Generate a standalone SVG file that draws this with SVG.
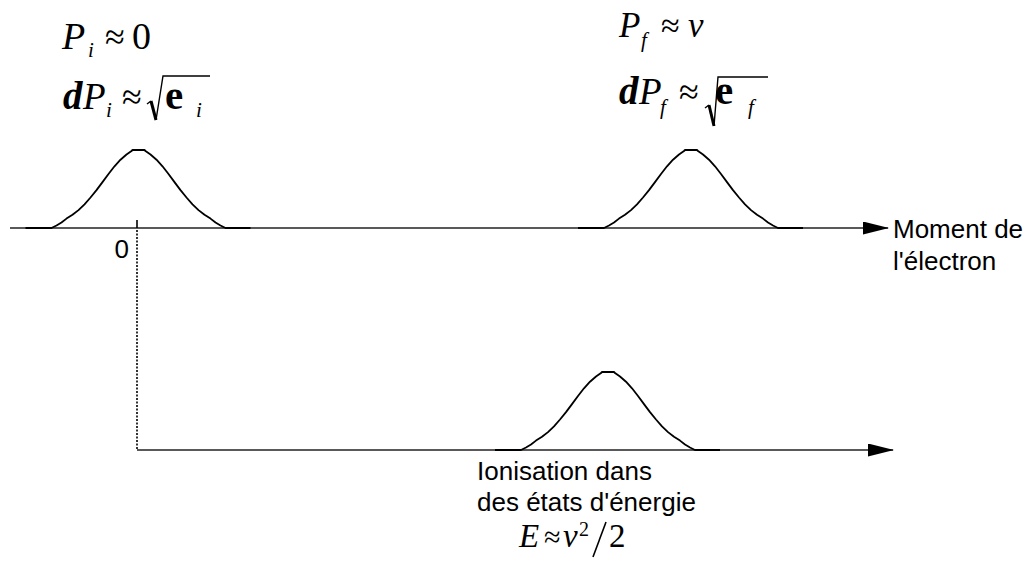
<svg xmlns="http://www.w3.org/2000/svg" width="1034" height="573" viewBox="0 0 1034 573">
<style>
.lbl{font-family:"Liberation Sans",Arial,sans-serif;font-size:26px;fill:#000}
.m{font-family:"Liberation Serif","Times New Roman",serif;fill:#000}
.it{font-style:italic}
.bd{font-weight:bold}
.ax{stroke:#222;stroke-width:1.6;fill:none}
.g{stroke:#000;stroke-width:1.8;fill:none;stroke-linejoin:round}
.rad{stroke:#000;stroke-width:1.4;fill:none}
</style>
<defs>
<marker id="arr" markerWidth="26" markerHeight="13" refX="25" refY="6.5" orient="auto" markerUnits="userSpaceOnUse">
<path d="M0,0 L26,6.5 L0,13 Z" fill="#000"/>
</marker>
<path id="gauss" d="M-113,0 L-87,0 L-82,-2.5 L-77,-5.5 L-72,-9.4 L-66,-13.2 L-60,-17.9 L-54,-23.7 L-48,-30.5 L-42,-37.9 L-36,-45.9 L-30,-54 L-24,-61.7 L-18,-68.3 L-12,-73.5 L-7,-77 L-6,-78 L6,-78 L7,-77 L12,-73.5 L18,-68.3 L24,-61.7 L30,-54 L36,-45.9 L42,-37.9 L48,-30.5 L54,-23.7 L60,-17.9 L66,-13.2 L72,-9.4 L77,-5.5 L82,-2.5 L87,0 L112,0"/>
</defs>

<g id="connectors">
<line class="ax" x1="10" y1="228" x2="888" y2="228" marker-end="url(#arr)"/>
<line class="ax" x1="137" y1="450" x2="893" y2="450" marker-end="url(#arr)"/>
<line x1="137" y1="220" x2="137" y2="228" stroke="#000" stroke-width="1.6"/>
<line x1="137" y1="230" x2="137" y2="450" stroke="#000" stroke-width="1.6" stroke-dasharray="2 1.5"/>
</g>

<g id="gauss-initial">
<use href="#gauss" class="g" transform="translate(138.5,228)"/>
</g>
<g id="gauss-final">
<use href="#gauss" class="g" transform="translate(691,228)"/>
</g>
<g id="gauss-energy">
<use href="#gauss" class="g" transform="translate(608,450)"/>
</g>

<g id="label-zero">
<text class="lbl" x="129" y="258" text-anchor="end">0</text>
</g>

<g id="label-moment">
<text class="lbl" x="893" y="238" font-size="26.5">Moment de</text>
<text class="lbl" x="893" y="270" font-size="26.5">l'électron</text>
</g>

<g id="label-ionisation">
<text class="lbl" x="477" y="480">Ionisation dans</text>
<text class="lbl" x="477" y="511">des états d'énergie</text>
<text class="m it" x="519" y="547" font-size="33">E</text>
<text class="m" x="544" y="547" font-size="30">≈</text>
<text class="m it" x="563" y="547" font-size="33">v</text>
<text class="m" x="579" y="536" font-size="20">2</text>
<line x1="606" y1="522" x2="593" y2="557" stroke="#000" stroke-width="1.6"/>
<text class="m" x="609" y="547" font-size="33">2</text>
</g>

<g id="formula-initial">
<text class="m it" x="62" y="49" font-size="38">P</text>
<text class="m it" x="88" y="57" font-size="21">i</text>
<text class="m" x="105" y="49" font-size="36">≈</text>
<text class="m" x="132" y="49" font-size="38">0</text>
<text class="m it bd" x="63" y="109" font-size="39">d</text>
<text class="m it" x="83" y="109" font-size="37">P</text>
<text class="m it" x="106" y="117" font-size="21">i</text>
<text class="m" x="122" y="109" font-size="36">≈</text>
<polyline class="rad" points="147,104 151,101"/>
<polyline points="151,101 156,120" stroke="#000" stroke-width="3" fill="none"/>
<polyline class="rad" points="156,120 163,76 210,76"/>
<text class="m bd" x="165" y="109" font-size="41">e</text>
<text class="m it" x="196" y="117" font-size="21">i</text>
</g>

<g id="formula-final">
<text class="m it" x="619" y="37" font-size="35">P</text>
<text class="m it" x="641" y="47" font-size="21">f</text>
<text class="m" x="661" y="37" font-size="34">≈</text>
<text class="m it" x="688" y="37" font-size="35">v</text>
<text class="m it bd" x="619" y="104" font-size="39">d</text>
<text class="m it" x="639" y="104" font-size="37">P</text>
<text class="m it" x="660" y="114" font-size="21">f</text>
<text class="m" x="679" y="104" font-size="36">≈</text>
<polyline class="rad" points="705,108 709,105"/>
<polyline points="709,105 714,126" stroke="#000" stroke-width="3" fill="none"/>
<polyline class="rad" points="714,126 718,77 768,77"/>
<text class="m bd" x="715" y="104" font-size="41">e</text>
<text class="m it" x="748" y="114" font-size="21">f</text>
</g>
</svg>
